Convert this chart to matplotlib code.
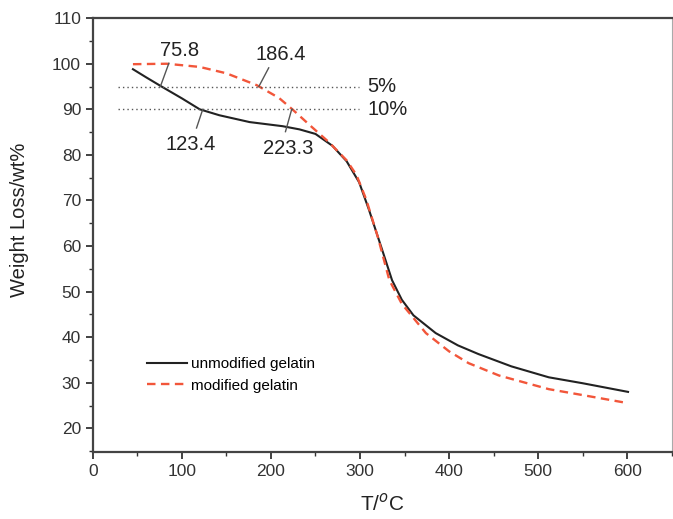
import matplotlib
matplotlib.use('Agg')
import matplotlib.pyplot as plt
from matplotlib.ticker import MultipleLocator

plt.rcParams['font.family'] = ['Liberation Sans', 'DejaVu Sans']

# TGA curves
T_unmod = [45, 60, 78, 100, 120, 142, 176, 213, 232, 250, 269, 285, 299, 310,
           325, 336, 347, 360, 385, 410, 433, 470, 512, 550, 601]
W_unmod = [98.8, 97.0, 94.9, 92.4, 90.0, 88.7, 87.2, 86.3, 85.6, 84.6, 82.0, 78.6,
           74.0, 68.0, 59.1, 52.5, 48.2, 44.8, 40.9, 38.2, 36.3, 33.6, 31.2, 29.9, 28.0]

T_mod = [45, 83, 120, 150, 184, 209, 224, 246, 265, 285, 296, 307, 320, 333,
         347, 374, 400, 422, 456, 512, 550, 596]
W_mod = [99.9, 100.0, 99.3, 97.9, 95.3, 92.5, 90.0, 86.1, 82.8, 78.8, 75.6, 70.2,
         62.0, 52.5, 47.3, 40.9, 36.9, 34.3, 31.6, 28.6, 27.3, 25.7]

loss_levels = [95, 90]
loss_labels = ['5%', '10%']

# (point on curve, text position, label)
notes = [((75.8, 95), (97, 103.0), '75.8'),
         ((186.4, 95), (211, 102.0), '186.4'),
         ((123.4, 90), (110, 82.3), '123.4'),
         ((223.3, 90), (219, 81.5), '223.3')]

fig = plt.figure(figsize=(6.73, 5.19), dpi=100)
ax = fig.add_axes([0.138, 0.129, 0.860, 0.836])

ax.plot(T_unmod, W_unmod, color='#222222', lw=1.5, label='unmodified gelatin')
ax.plot(T_mod, W_mod, color='#f2563a', lw=1.7, dashes=(3.6, 2.3),
        label='modified gelatin')

for lv, lab in zip(loss_levels, loss_labels):
    ax.plot([28, 299], [lv, lv], color='#555555', lw=1.0, linestyle=(0, (1, 2.2)))
    ax.text(308, lv, lab, fontsize=14.5, color='#222222', va='center', ha='left')

for (px, py), (tx, ty), lab in notes:
    if ty > py:
        ex, ey = px + (tx - px) * 0.45, ty - 2.9
    else:
        ex, ey = px - 7, ty + 3.6
    ax.plot([px, ex], [py, ey], color='#555555', lw=1.0)
    ax.text(tx, ty, lab, fontsize=14.5, color='#222222', ha='center', va='center')

ax.set_xlim(0, 650)
ax.set_ylim(14.8, 110)
ax.xaxis.set_major_locator(MultipleLocator(100))
ax.xaxis.set_minor_locator(MultipleLocator(50))
ax.yaxis.set_major_locator(MultipleLocator(10))
ax.yaxis.set_minor_locator(MultipleLocator(5))
ax.set_xticks(range(0, 601, 100))
ax.set_yticks(range(20, 111, 10))
ax.tick_params(which='major', direction='out', length=5, width=1.3,
               labelsize=12.5, labelcolor='#333333', color='#333333')
ax.tick_params(which='minor', direction='out', length=3, width=1.0, color='#333333')

for side in ['left', 'bottom', 'top']:
    ax.spines[side].set_linewidth(1.6)
    ax.spines[side].set_color('#444444')
ax.spines['right'].set_linewidth(0.8)
ax.spines['right'].set_color('#aaaaaa')

ax.set_xlabel('T/$^o$C', fontsize=15, color='#222222')
ax.set_ylabel('Weight Loss/wt%', fontsize=14.5, color='#222222')
ax.yaxis.set_label_coords(-0.11, 0.535)
ax.xaxis.set_label_coords(0.5, -0.092)

ax.legend(frameon=False, loc='lower left', bbox_to_anchor=(0.07, 0.105),
          handlelength=2.6, handletextpad=0.25, labelspacing=0.5, fontsize=11)

plt.savefig('out.png', dpi=100)
